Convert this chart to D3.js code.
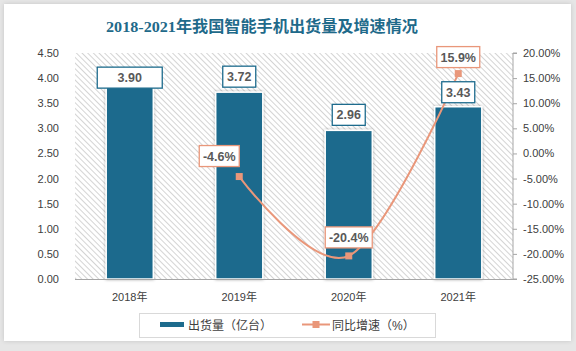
<!DOCTYPE html>
<html><head><meta charset="utf-8">
<script src="https://cdn.jsdelivr.net/npm/d3@7/dist/d3.min.js"></script>
<style>
html,body{margin:0;padding:0;background:#e6e6e6;}
svg{display:block;}
</style></head>
<body><svg id="c" width="576" height="351"></svg>
<script>
const title = "2018-2021年我国智能手机出货量及增速情况";
const categories = ["2018年","2019年","2020年","2021年"];
const shipments = [3.90, 3.72, 2.96, 3.43];          // 亿台
const growth = [null, -0.046, -0.204, 0.159];         // 同比增速
const shipmentLabels = ["3.90","3.72","2.96","3.43"];
const growthLabels = [null, "-4.6%", "-20.4%", "15.9%"];
const leftTicks = [0,0.5,1,1.5,2,2.5,3,3.5,4,4.5];
const leftTickLabels = ["0.00","0.50","1.00","1.50","2.00","2.50","3.00","3.50","4.00","4.50"];
const rightTicks = [-0.25,-0.2,-0.15,-0.1,-0.05,0,0.05,0.1,0.15,0.2];
const rightTickLabels = ["-25.00%","-20.00%","-15.00%","-10.00%","-5.00%","0.00%","5.00%","10.00%","15.00%","20.00%"];
const legendNames = ["出货量（亿台）","同比增速（%）"];

const BLUE = "#1d6b8d", SALMON = "#e9977a", TXT = "#404040", LBL = "#595959";
const svg = d3.select("#c");
const defs = svg.append("defs");
const sh = defs.append("filter").attr("id","sh").attr("x","-20%").attr("y","-20%").attr("width","140%").attr("height","140%");
sh.append("feDropShadow").attr("dx",0).attr("dy",0).attr("stdDeviation",1.6).attr("flood-color","#000").attr("flood-opacity",0.35);
const fr = defs.append("filter").attr("id","fr").attr("x","-5%").attr("y","-5%").attr("width","110%").attr("height","110%");
fr.append("feDropShadow").attr("dx",0).attr("dy",0).attr("stdDeviation",2).attr("flood-color","#000").attr("flood-opacity",0.15);
const pat = defs.append("pattern").attr("id","hatch").attr("patternUnits","userSpaceOnUse")
  .attr("width",4).attr("height",4).attr("patternTransform","rotate(-45)");
pat.append("rect").attr("width",4).attr("height",4).attr("fill","#fff");
pat.append("line").attr("x1",0.5).attr("y1",0).attr("x2",0.5).attr("y2",4).attr("stroke","#d4d4d4").attr("stroke-width",1);

// frame
svg.append("rect").attr("x",4).attr("y",4).attr("width",567).attr("height",337).attr("fill","#fff").attr("filter","url(#fr)");

const L = 75, R = 513, T = 53, B = 279;
const x = d3.scaleBand().domain(categories).range([L,R]).paddingInner(0.57).paddingOuter(0.285);
const yL = d3.scaleLinear().domain([0,4.5]).range([B,T]);
const yR = d3.scaleLinear().domain([-0.25,0.20]).range([B,T]);
const cx = c => x(c) + x.bandwidth()/2;

// plot area hatch
svg.append("rect").attr("x",L).attr("y",T).attr("width",R-L).attr("height",B-T).attr("fill","url(#hatch)");

// title
svg.append("text").attr("x",106).attr("y",32).attr("text-anchor","start")
  .attr("font-family","'Liberation Serif','Noto Sans CJK SC',serif").attr("font-weight","bold")
  .attr("font-size",15.5).attr("fill","#1f6a8a")
  .attr("textLength",312).attr("lengthAdjust","spacingAndGlyphs").text(title);

// left axis labels
const fontAx = "'Liberation Sans','Noto Sans CJK SC',sans-serif";
svg.append("g").selectAll("text").data(leftTicks).join("text")
  .attr("x",59).attr("y",d=>yL(d)+4).attr("text-anchor","end")
  .attr("font-family",fontAx).attr("font-size",11).attr("fill",TXT)
  .text((d,i)=>leftTickLabels[i]);

// right axis
const rAxis = d3.axisRight(yR).tickValues(rightTicks).tickSize(4).tickFormat((d,i)=>rightTickLabels[i]);
const rg = svg.append("g").attr("transform",`translate(${R},0)`).call(rAxis);
rg.select(".domain").attr("stroke","#a6a6a6").attr("d",`M4,${T}H0V${B}H4`);
rg.selectAll(".tick line").attr("stroke","#a6a6a6");
rg.selectAll(".tick text").attr("x",10).attr("font-family",fontAx).attr("font-size",11).attr("fill",TXT);

// bars
svg.append("g").selectAll("rect").data(shipments).join("rect")
  .attr("x",(d,i)=>x(categories[i])).attr("width",x.bandwidth())
  .attr("y",d=>yL(d)).attr("height",d=>B-yL(d))
  .attr("fill",BLUE).attr("stroke","#fff").attr("stroke-width",1.5).attr("filter","url(#sh)");

// bottom axis line
svg.append("line").attr("x1",L).attr("x2",R).attr("y1",B+0.5).attr("y2",B+0.5).attr("stroke","#a6a6a6");

// x labels
svg.append("g").selectAll("text").data(categories).join("text")
  .attr("x",d=>cx(d)).attr("y",301).attr("text-anchor","middle")
  .attr("font-family",fontAx).attr("font-size",11).attr("fill",TXT).text(d=>d);

// line
const pts = growth.map((g,i)=>g==null?null:[cx(categories[i]), yR(g)]).filter(p=>p);
svg.append("path").attr("d",d3.line().curve(d3.curveCatmullRom.alpha(0))(pts))
  .attr("fill","none").attr("stroke",SALMON).attr("stroke-width",2);
svg.append("g").selectAll("rect").data(pts).join("rect")
  .attr("x",p=>p[0]-3.5).attr("y",p=>p[1]-3.5).attr("width",7).attr("height",7).attr("fill",SALMON);

// label boxes
function labelBox(cxp, bottom, w, txt, color){
  const g = svg.append("g");
  g.append("rect").attr("x",cxp-w/2).attr("y",bottom-21).attr("width",w).attr("height",21)
    .attr("fill","#fff").attr("stroke",color).attr("stroke-width",1.3);
  g.append("text").attr("x",cxp).attr("y",bottom-6).attr("text-anchor","middle")
    .attr("font-family",fontAx).attr("font-weight","bold").attr("font-size",12.5).attr("fill",LBL).text(txt);
}
// bar labels: layout tweaks (first label enlarged/lowered as in reference)
const barBoxW = [65,33,33,33], barBoxGap = [-5,5,5,4];
shipments.forEach((v,i)=>labelBox(cx(categories[i]), yL(v)-barBoxGap[i], barBoxW[i], shipmentLabels[i], BLUE));
const lineBoxW = [0,40,47,43], lineBoxDx = [0,-20,0,0], lineBoxGap = [0,10,8,6];
growth.forEach((g,i)=>{ if(g==null) return;
  labelBox(cx(categories[i])+lineBoxDx[i], yR(g)-lineBoxGap[i], lineBoxW[i], growthLabels[i], SALMON); });

// legend
const lg = svg.append("g");
lg.append("rect").attr("x",139.5).attr("y",313.5).attr("width",296).attr("height",24).attr("fill","#fff").attr("stroke","#d9d9d9");
lg.append("rect").attr("x",160).attr("y",322).attr("width",24).attr("height",5).attr("fill",BLUE);
lg.append("text").attr("x",188).attr("y",330).attr("font-family",fontAx).attr("font-size",12).attr("fill",TXT).text(legendNames[0]);
lg.append("line").attr("x1",302).attr("x2",330).attr("y1",324.5).attr("y2",324.5).attr("stroke",SALMON).attr("stroke-width",2);
lg.append("rect").attr("x",312.5).attr("y",321).attr("width",7).attr("height",7).attr("fill",SALMON);
lg.append("text").attr("x",332).attr("y",330).attr("font-family",fontAx).attr("font-size",12).attr("fill",TXT).text(legendNames[1]);
</script></body></html>
